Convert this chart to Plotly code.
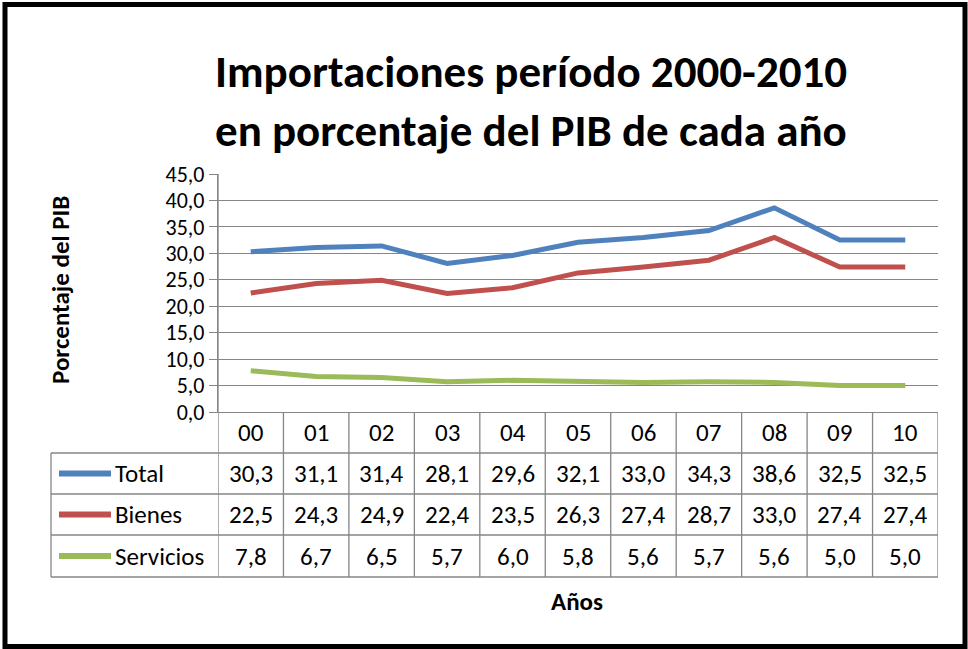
import plotly.graph_objects as go

years = ["00", "01", "02", "03", "04", "05", "06", "07", "08", "09", "10"]
total = [30.3, 31.1, 31.4, 28.1, 29.6, 32.1, 33.0, 34.3, 38.6, 32.5, 32.5]
bienes = [22.5, 24.3, 24.9, 22.4, 23.5, 26.3, 27.4, 28.7, 33.0, 27.4, 27.4]
servicios = [7.8, 6.7, 6.5, 5.7, 6.0, 5.8, 5.6, 5.7, 5.6, 5.0, 5.0]
series_names = ["Total", "Bienes", "Servicios"]
series_values = [total, bienes, servicios]
colors = ["#4F81BD", "#C0504D", "#9BBB59"]

title_lines = ["Importaciones período 2000-2010", "en porcentaje del PIB de cada año"]
y_title = "Porcentaje del PIB"
x_title = "Años"

FONT = "Carlito, Calibri, Lato, sans-serif"
W, H = 968, 649
L, R, T, B = 218, 938, 174, 412  # plot area in pixels
GRID = "#868686"
FS = 25


def px(xp):
    return (xp - L) / (R - L)


def py(yp):
    return (B - yp) / (B - T)


xs = list(range(len(years)))
fig = go.Figure()
for name, vals, col in zip(series_names, series_values, colors):
    fig.add_trace(go.Scatter(x=xs, y=vals, mode="lines", name=name,
                             line=dict(color=col, width=5), showlegend=False))

shapes = []
annotations = []

row_edges = [B, 453, 494, 535, 577]
tab_left = 51

for i in range(len(years) + 1):
    xv = i - 0.5
    y0 = py(row_edges[-1])
    y1 = 0 if i > 0 else 1
    shapes.append(dict(type="line", xref="x", yref="paper", x0=xv, x1=xv,
                       y0=y0, y1=y1, line=dict(color=GRID, width=1.3)))
shapes.append(dict(type="line", xref="paper", yref="paper", x0=px(tab_left), x1=px(tab_left),
                   y0=py(row_edges[1]), y1=py(row_edges[-1]), line=dict(color=GRID, width=1.3)))
for ye in row_edges[1:]:
    shapes.append(dict(type="line", xref="paper", yref="paper", x0=px(tab_left), x1=1,
                       y0=py(ye), y1=py(ye), line=dict(color=GRID, width=1.3)))

hy = py((row_edges[0] + row_edges[1]) / 2)
for i, lab in enumerate(years):
    annotations.append(dict(x=i, y=hy, xref="x", yref="paper", text=lab, showarrow=False,
                            xanchor="center", yanchor="middle",
                            font=dict(size=FS, color="black", family=FONT)))

for r, (name, vals, col) in enumerate(zip(series_names, series_values, colors)):
    yc = py((row_edges[r + 1] + row_edges[r + 2]) / 2)
    shapes.append(dict(type="line", xref="paper", yref="paper", x0=px(59), x1=px(111),
                       y0=yc, y1=yc, line=dict(color=col, width=6)))
    annotations.append(dict(x=px(113), y=yc, xref="paper", yref="paper", text=name,
                            showarrow=False, xanchor="left", yanchor="middle",
                            font=dict(size=FS, color="black", family=FONT)))
    for i, v in enumerate(vals):
        annotations.append(dict(x=i, y=yc, xref="x", yref="paper",
                                text=f"{v:.1f}".replace(".", ","), showarrow=False,
                                xanchor="center", yanchor="middle",
                                font=dict(size=FS, color="black", family=FONT)))

annotations.append(dict(x=px(531), y=py(72), xref="paper", yref="paper", text="<b>" + title_lines[0] + "</b>",
                        showarrow=False, xanchor="center", yanchor="middle",
                        font=dict(size=45, color="black", family=FONT)))
annotations.append(dict(x=px(531), y=py(130), xref="paper", yref="paper", text="<b>" + title_lines[1] + "</b>",
                        showarrow=False, xanchor="center", yanchor="middle",
                        font=dict(size=45, color="black", family=FONT)))
annotations.append(dict(x=px(60), y=py(290), xref="paper", yref="paper", text="<b>" + y_title + "</b>",
                        textangle=-90, showarrow=False, xanchor="center", yanchor="middle",
                        font=dict(size=FS, color="black", family=FONT)))
annotations.append(dict(x=px(577), y=py(601), xref="paper", yref="paper", text="<b>" + x_title + "</b>",
                        showarrow=False, xanchor="center", yanchor="middle",
                        font=dict(size=FS, color="black", family=FONT)))

shapes.append(dict(type="rect", xref="paper", yref="paper", x0=px(5), x1=px(965), y0=py(646.5), y1=py(4.5),
                   line=dict(color="black", width=5)))

fig.update_layout(
    width=W, height=H,
    margin=dict(l=L, r=W - R, t=T, b=H - B),
    paper_bgcolor="white", plot_bgcolor="white",
    separators=",.",
    font=dict(family=FONT, color="black"),
    shapes=shapes, annotations=annotations,
    xaxis=dict(range=[-0.5, len(years) - 0.5], showticklabels=False, showgrid=False,
               zeroline=False, showline=True, linecolor=GRID, linewidth=1.3, ticks=""),
    yaxis=dict(range=[0, 45], dtick=5, tickformat=".1f", showgrid=True, gridcolor=GRID, gridwidth=1.3,
               zeroline=False, showline=True, linecolor=GRID, linewidth=1.3,
               ticks="outside", ticklen=8, tickcolor=GRID, tickwidth=1.3,
               tickfont=dict(size=22, color="black", family=FONT)),
)

fig.write_html("out.html", config={"displayModeBar": False},
               post_script="document.body.style.margin='0';")
